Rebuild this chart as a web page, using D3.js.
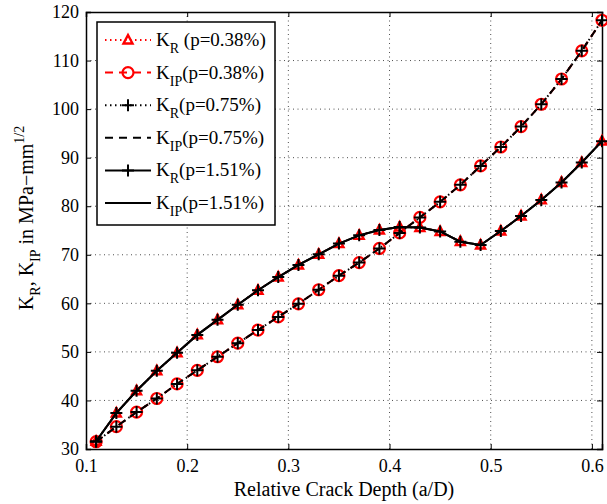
<!DOCTYPE html>
<html>
<head>
<meta charset="utf-8">
<script src="https://cdn.jsdelivr.net/npm/d3@7/dist/d3.min.js"></script>
<style>
  body { margin: 0; background: #fff; }
  text { font-family: "Liberation Serif", "Times New Roman", serif; fill: #000; }
</style>
</head>
<body>
<svg id="chart"></svg>
<script>
// relative crack depth a/D
var depth = [0.11, 0.13, 0.15, 0.17, 0.19, 0.21, 0.23, 0.25, 0.27, 0.29, 0.31, 0.33, 0.35,
             0.37, 0.39, 0.41, 0.43, 0.45, 0.47, 0.49, 0.51, 0.53, 0.55, 0.57, 0.59, 0.61];

// upper curve (KR 0.38%, KR 1.51%, KIP 1.51% all sit on it)
var kUpper = [31.6, 37.4, 42.0, 46.1, 49.8, 53.5, 56.6, 59.7, 62.7, 65.4, 67.9, 70.1, 72.3,
              74.0, 75.1, 75.7, 75.6, 74.8, 72.7, 72.0, 74.9, 78.0, 81.3, 84.9, 89.0, 93.4];
// lower curve (KIP 0.38%, KR 0.75%, KIP 0.75%)
var kLower = [31.5, 34.6, 37.6, 40.4, 43.4, 46.2, 49.0, 51.8, 54.5, 57.2, 59.9, 62.8, 65.7,
              68.4, 71.3, 74.5, 77.7, 80.9, 84.4, 88.3, 92.2, 96.4, 101.0, 106.2, 112.0, 118.3];

var kR038 = kUpper, kIP038 = kLower;
var kR075 = kLower, kIP075 = kLower;
var kR151 = kUpper, kIP151 = kUpper;

var xTicks = [0.1, 0.2, 0.3, 0.4, 0.5, 0.6];
var yTicks = [30, 40, 50, 60, 70, 80, 90, 100, 110, 120];

var series = [
  { sub: 'R', label: ' (p=0.38%)', values: kR038, color: 'red', dash: '1.5,3.5', marker: 'tri' },
  { sub: 'IP', label: '(p=0.38%)', values: kIP038, color: 'red', dash: '8,6', marker: 'circ' },
  { sub: 'R', label: '(p=0.75%)', values: kR075, color: '#000', dash: '1.5,3.5', marker: 'plus' },
  { sub: 'IP', label: '(p=0.75%)', values: kIP075, color: '#000', dash: '8,6', marker: null },
  { sub: 'R', label: '(p=1.51%)', values: kR151, color: '#000', dash: null, marker: 'plus' },
  { sub: 'IP', label: '(p=1.51%)', values: kIP151, color: '#000', dash: null, marker: null }
];

var W = 607, H = 504;
var svg = d3.select('#chart').attr('width', W).attr('height', H);

var x = d3.scaleLinear().domain([0.1, 0.61]).range([86, 602]);
var y = d3.scaleLinear().domain([30, 120]).range([449, 12]);

// grid
var grid = svg.append('g');
grid.selectAll('line.gx').data(xTicks.slice(1)).enter().append('line')
  .attr('x1', function (d) { return x(d); }).attr('x2', function (d) { return x(d); })
  .attr('y1', y(30)).attr('y2', y(120));
grid.selectAll('line.gy').data(yTicks.slice(1, -1)).enter().append('line')
  .attr('x1', x(0.1)).attr('x2', x(0.61))
  .attr('y1', function (d) { return y(d); }).attr('y2', function (d) { return y(d); });
grid.selectAll('line').attr('stroke', '#222').attr('stroke-width', 0.8).attr('stroke-dasharray', '1,3.5');

// axes (inward ticks on all four sides)
var fmt = function (d) { return d3.format('.1f')(d); };
svg.append('g').attr('transform', 'translate(0,' + y(30) + ')')
  .call(d3.axisBottom(x).tickValues(xTicks).tickSize(-5).tickPadding(10).tickFormat(fmt));
svg.append('g').attr('transform', 'translate(0,' + y(120) + ')')
  .call(d3.axisTop(x).tickValues(xTicks).tickSize(-5).tickFormat(''));
svg.append('g').attr('transform', 'translate(' + x(0.1) + ',0)')
  .call(d3.axisLeft(y).tickValues(yTicks).tickSize(-5).tickPadding(7));
svg.append('g').attr('transform', 'translate(' + x(0.61) + ',0)')
  .call(d3.axisRight(y).tickValues(yTicks).tickSize(-5).tickFormat(''));
svg.selectAll('.domain').attr('stroke', '#000').attr('stroke-width', 1.5);
svg.selectAll('.tick line').attr('stroke', '#000').attr('stroke-width', 1);
svg.selectAll('.tick text').style('font-family', '"Liberation Serif", serif').style('font-size', '18px');

// curves
var line = d3.line()
  .x(function (d, i) { return x(depth[i]); })
  .y(function (d) { return y(d); });

function drawMarker(g, type, color, cx, cy) {
  if (type === 'tri') {
    g.append('path').attr('d', 'M' + cx + ',' + (cy - 5) + 'L' + (cx + 4.5) + ',' + (cy + 3.5) + 'L' + (cx - 4.5) + ',' + (cy + 3.5) + 'Z')
      .attr('fill', 'none').attr('stroke', color).attr('stroke-width', 2.4);
  } else if (type === 'circ') {
    g.append('circle').attr('cx', cx).attr('cy', cy).attr('r', 5.5)
      .attr('fill', 'none').attr('stroke', color).attr('stroke-width', 2.2);
  } else if (type === 'plus') {
    g.append('path').attr('d', 'M' + (cx - 6) + ',' + cy + 'H' + (cx + 6) + 'M' + cx + ',' + (cy - 6) + 'V' + (cy + 6))
      .attr('fill', 'none').attr('stroke', color).attr('stroke-width', 2);
  }
}

series.forEach(function (s) {
  var g = svg.append('g');
  g.append('path').attr('d', line(s.values))
    .attr('fill', 'none').attr('stroke', s.color).attr('stroke-width', 2)
    .attr('stroke-dasharray', s.dash);
  if (s.marker) {
    s.values.forEach(function (v, i) { drawMarker(g, s.marker, s.color, x(depth[i]), y(v)); });
  }
});

// legend
var leg = svg.append('g');
leg.append('rect').attr('x', 97).attr('y', 22).attr('width', 178).attr('height', 203)
  .attr('fill', '#fff').attr('stroke', '#000').attr('stroke-width', 1.5);
series.forEach(function (s, i) {
  var ly = 40 + i * 32.6;
  var g = leg.append('g');
  g.append('line').attr('x1', 105).attr('x2', 151).attr('y1', ly).attr('y2', ly)
    .attr('stroke', s.color).attr('stroke-width', 2).attr('stroke-dasharray', s.dash);
  if (s.marker) drawMarker(g, s.marker, s.color, 128, ly);
  var t = g.append('text').attr('x', 156).attr('y', ly + 6).style('font-size', '19px');
  t.append('tspan').text('K');
  t.append('tspan').attr('dy', 7).style('font-size', '14px').text(s.sub);
  t.append('tspan').attr('dy', -7).text(s.label);
});

// axis titles
svg.append('text').attr('x', 344).attr('y', 496).attr('text-anchor', 'middle')
  .style('font-size', '20px').text('Relative Crack Depth (a/D)');

var yt = svg.append('text').attr('transform', 'translate(33,' + 218 + ') rotate(-90)')
  .attr('text-anchor', 'middle').style('font-size', '20px');
yt.append('tspan').text('K');
yt.append('tspan').attr('dy', 7).style('font-size', '14px').text('R');
yt.append('tspan').attr('dy', -7).text(', K');
yt.append('tspan').attr('dy', 7).style('font-size', '14px').text('IP');
yt.append('tspan').attr('dy', -7).text(' in MPa\u2212mm');
yt.append('tspan').attr('dy', -9).style('font-size', '14px').text('1/2');
</script>
</body>
</html>
